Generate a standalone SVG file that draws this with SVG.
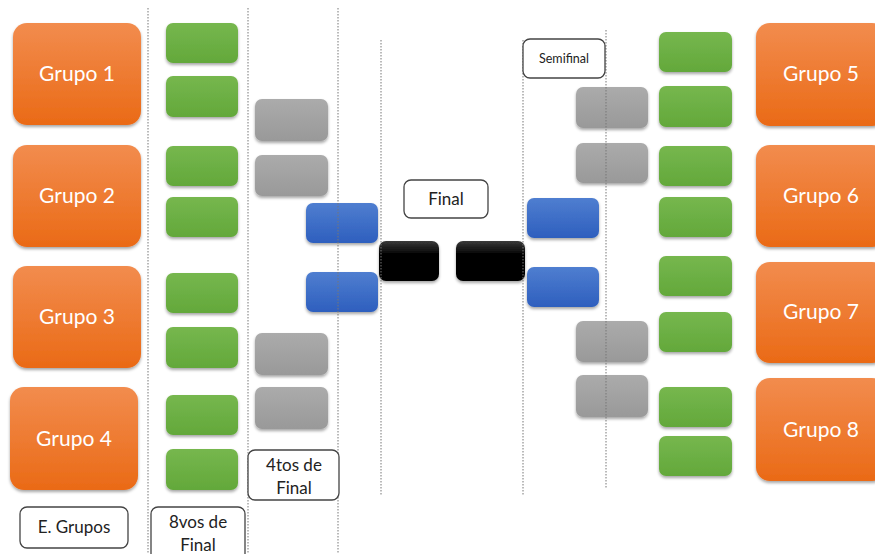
<svg xmlns="http://www.w3.org/2000/svg" width="875" height="554" viewBox="0 0 875 554">
<defs>
<linearGradient id="gO" x1="0" y1="0" x2="0" y2="1"><stop offset="0" stop-color="#F28C4E"/><stop offset="1" stop-color="#EA6A16"/></linearGradient>
<linearGradient id="gG" x1="0" y1="0" x2="0" y2="1"><stop offset="0" stop-color="#76B74E"/><stop offset="1" stop-color="#63A83A"/></linearGradient>
<linearGradient id="gS" x1="0" y1="0" x2="0" y2="1"><stop offset="0" stop-color="#ABABAB"/><stop offset="1" stop-color="#999999"/></linearGradient>
<linearGradient id="gB" x1="0" y1="0" x2="0" y2="1"><stop offset="0" stop-color="#4F7ED0"/><stop offset="1" stop-color="#2E5FBE"/></linearGradient>
<linearGradient id="gK" x1="0" y1="0" x2="0" y2="1"><stop offset="0" stop-color="#3a3a3a"/><stop offset="0.35" stop-color="#000"/><stop offset="1" stop-color="#000"/></linearGradient>
<filter id="sh" x="-20%" y="-20%" width="140%" height="150%"><feDropShadow dx="0" dy="2" stdDeviation="1.8" flood-color="#000" flood-opacity="0.35"/></filter>
</defs>
<style>
.o{fill:url(#gO);filter:url(#sh)}
.g{fill:url(#gG);filter:url(#sh)}
.s{fill:url(#gS);filter:url(#sh)}
.b{fill:url(#gB);filter:url(#sh)}
.k{fill:url(#gK);filter:url(#sh)}
.ot{font-family:Lato,"Liberation Sans",sans-serif;font-size:21px;fill:#fff;text-anchor:middle}
.lb{fill:#fff;stroke:#444;stroke-width:1.3}
.lt{font-family:Lato,"Liberation Sans",sans-serif;font-size:17px;fill:#222;text-anchor:middle}
.dl{stroke:#777;stroke-width:1;stroke-dasharray:1.5 1.5}
</style>
<g id="grupo1"><rect class="o" x="13" y="23" width="128" height="102" rx="14"/><text class="ot" x="77" y="81">Grupo 1</text></g>
<g id="grupo2"><rect class="o" x="13" y="145" width="128" height="102" rx="14"/><text class="ot" x="77" y="203">Grupo 2</text></g>
<g id="grupo3"><rect class="o" x="13" y="266" width="128" height="102" rx="14"/><text class="ot" x="77" y="324">Grupo 3</text></g>
<g id="grupo4"><rect class="o" x="10" y="387" width="128" height="103" rx="14"/><text class="ot" x="74" y="446">Grupo 4</text></g>
<g id="grupo5"><rect class="o" x="756" y="23" width="130" height="103" rx="14"/><text class="ot" x="821" y="81">Grupo 5</text></g>
<g id="grupo6"><rect class="o" x="756" y="145" width="130" height="102" rx="14"/><text class="ot" x="821" y="203">Grupo 6</text></g>
<g id="grupo7"><rect class="o" x="756" y="262" width="130" height="101" rx="14"/><text class="ot" x="821" y="319">Grupo 7</text></g>
<g id="grupo8"><rect class="o" x="756" y="378" width="130" height="103" rx="14"/><text class="ot" x="821" y="437">Grupo 8</text></g>
<g id="octavos-izq">
<rect class="g" x="166" y="23" width="72" height="40" rx="7"/>
<rect class="g" x="166" y="76" width="72" height="41" rx="7"/>
<rect class="g" x="166" y="146" width="72" height="40" rx="7"/>
<rect class="g" x="166" y="197" width="72" height="40" rx="7"/>
<rect class="g" x="166" y="273" width="72" height="40" rx="7"/>
<rect class="g" x="166" y="327" width="72" height="41" rx="7"/>
<rect class="g" x="166" y="395" width="72" height="40" rx="7"/>
<rect class="g" x="166" y="449" width="72" height="41" rx="7"/>
</g>
<g id="octavos-der">
<rect class="g" x="659" y="32" width="73" height="40" rx="7"/>
<rect class="g" x="659" y="86" width="73" height="41" rx="7"/>
<rect class="g" x="659" y="146" width="73" height="40" rx="7"/>
<rect class="g" x="659" y="197" width="73" height="40" rx="7"/>
<rect class="g" x="659" y="256" width="73" height="40" rx="7"/>
<rect class="g" x="659" y="312" width="73" height="40" rx="7"/>
<rect class="g" x="659" y="387" width="73" height="40" rx="7"/>
<rect class="g" x="659" y="436" width="73" height="40" rx="7"/>
</g>
<g id="cuartos-izq">
<rect class="s" x="255" y="99" width="73" height="42" rx="7"/>
<rect class="s" x="255" y="155" width="73" height="41" rx="7"/>
<rect class="s" x="255" y="333" width="73" height="42" rx="7"/>
<rect class="s" x="255" y="387" width="73" height="42" rx="7"/>
</g>
<g id="cuartos-der">
<rect class="s" x="576" y="87" width="72" height="41" rx="7"/>
<rect class="s" x="576" y="143" width="72" height="40" rx="7"/>
<rect class="s" x="576" y="321" width="72" height="41" rx="7"/>
<rect class="s" x="576" y="375" width="72" height="42" rx="7"/>
</g>
<g id="semi-izq">
<rect class="b" x="306" y="203" width="72" height="40" rx="7"/>
<rect class="b" x="306" y="272" width="72" height="40" rx="7"/>
</g>
<g id="semi-der">
<rect class="b" x="527" y="198" width="72" height="40" rx="7"/>
<rect class="b" x="527" y="267" width="72" height="40" rx="7"/>
</g>
<g id="final">
<rect class="k" x="379" y="241" width="60" height="40" rx="7"/>
<rect class="k" x="456" y="241" width="69" height="40" rx="7"/>
</g>
<g id="connectors">
<line class="dl" x1="148" y1="8" x2="148" y2="554"/>
<line class="dl" x1="248" y1="8" x2="248" y2="554"/>
<line class="dl" x1="338" y1="8" x2="338" y2="554"/>
<line class="dl" x1="381" y1="40" x2="381" y2="496"/>
<line class="dl" x1="523" y1="40" x2="523" y2="496"/>
<line class="dl" x1="606" y1="30" x2="606" y2="488"/>
</g>
<g id="label-final"><rect class="lb" x="404" y="180" width="84" height="38" rx="7"/><text class="lt" x="446" y="205" font-size="16">Final</text></g>
<g id="label-semifinal"><rect class="lb" x="523" y="39" width="82" height="39" rx="7"/><text class="lt" x="564" y="63" style="font-size:12.5px">Semifinal</text></g>
<g id="label-cuartos"><rect class="lb" x="248" y="450" width="91" height="50" rx="7"/><text class="lt" x="294" y="471">4tos de</text><text class="lt" x="294" y="494">Final</text></g>
<g id="label-octavos"><rect class="lb" x="151" y="507" width="94" height="56" rx="7"/><text class="lt" x="198" y="528">8vos de</text><text class="lt" x="198" y="551">Final</text></g>
<g id="label-grupos"><rect class="lb" x="20" y="507" width="108" height="41" rx="7"/><text class="lt" x="74" y="533">E. Grupos</text></g>
</svg>
